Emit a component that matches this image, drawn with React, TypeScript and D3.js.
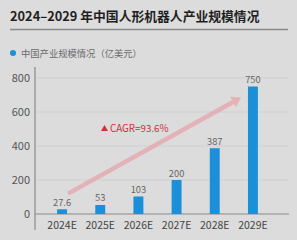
import React from "react";
import * as d3 from "d3";

const categories = ["2024E", "2025E", "2026E", "2027E", "2028E", "2029E"];
const values = [27.6, 53, 103, 200, 387, 750];
const valueLabels = ["27.6", "53", "103", "200", "387", "750"];
const yTicks = [0, 200, 400, 600, 800];
const title = "2024–2029 年中国人形机器人产业规模情况";
const legendLabel = "中国产业规模情况（亿美元）";
const cagrLabel = "CAGR=93.6%";

const W = 297, H = 240;
const FONT = "'Noto Sans CJK SC', 'Noto Sans', sans-serif";

export default function App() {
  const x = d3.scaleBand<string>().domain(categories).range([43, 272]).paddingInner(0.74).paddingOuter(0.37);
  const y = d3.scaleLinear().domain([0, 800]).range([214, 78]);
  const axisLeft = 35;
  const axisRight = 289;
  const bw = x.bandwidth();

  const ax1 = (x("2024E") as number) + bw / 2 + 6;
  const ay1 = y(120);
  const ax2 = (x("2029E") as number) - 7;
  const ay2 = y(685);
  const ang = Math.atan2(ay2 - ay1, ax2 - ax1);
  const headLen = 9, headW = 6;
  const bx = ax2 - headLen * Math.cos(ang), by = ay2 - headLen * Math.sin(ang);
  const px = -Math.sin(ang), py = Math.cos(ang);

  return (
    <svg width={W} height={H} style={{ position: "absolute", left: 0, top: 0, display: "block" }} fontFamily={FONT}>
      <rect x={0} y={0} width={W} height={H} fill="#dcdcdc" />
      <text x={10} y={21} fontSize={12.8} fontWeight="bold" fill="#1f1f1f">{title}</text>
      <line x1={10} x2={288} y1={29.5} y2={29.5} stroke="#8a8a8a" strokeWidth={1.5} />
      <circle cx={13} cy={53} r={3} fill="#1b8fd8" />
      <text x={21} y={56.5} fontSize={9.3} fill="#6a6a6a">{legendLabel}</text>

      {yTicks.map((t) => (
        <g key={t}>
          {t > 0 && <line x1={axisLeft} x2={axisRight} y1={y(t)} y2={y(t)} stroke="#d0d0d0" strokeWidth={1} />}
          <text x={30} y={y(t) + 4} fontSize={11} fill="#555" textAnchor="end">{t}</text>
        </g>
      ))}

      <line x1={axisLeft} x2={axisLeft} y1={67} y2={230} stroke="#8a8a8a" strokeWidth={1.2} />
      <line x1={axisLeft} x2={axisRight} y1={214} y2={214} stroke="#8a8a8a" strokeWidth={1.2} />

      <line x1={ax1} y1={ay1} x2={bx} y2={by} stroke="#e6aab0" strokeWidth={4.5} opacity={0.85} />
      <polygon
        points={`${ax2},${ay2} ${bx + px * headW},${by + py * headW} ${bx - px * headW},${by - py * headW}`}
        fill="#e6aab0" opacity={0.85}
      />

      {categories.map((c, i) => {
        const cx = (x(c) as number) + bw / 2;
        return (
          <g key={c}>
            <rect x={x(c)} y={y(values[i])} width={bw} height={214 - y(values[i])} fill="#1b8fd8" />
            <text x={cx} y={y(values[i]) - 3.5} fontSize={9.3} fill="#666" textAnchor="middle">{valueLabels[i]}</text>
            <text x={cx} y={228.5} fontSize={10.5} fill="#444" textAnchor="middle">{c}</text>
          </g>
        );
      })}

      <polygon points="101,131 104.5,125 108,131" fill="#d0303a" />
      <text x={110} y={131.5} fontSize={9.8} fill="#c8333c">{cagrLabel}</text>
    </svg>
  );
}
